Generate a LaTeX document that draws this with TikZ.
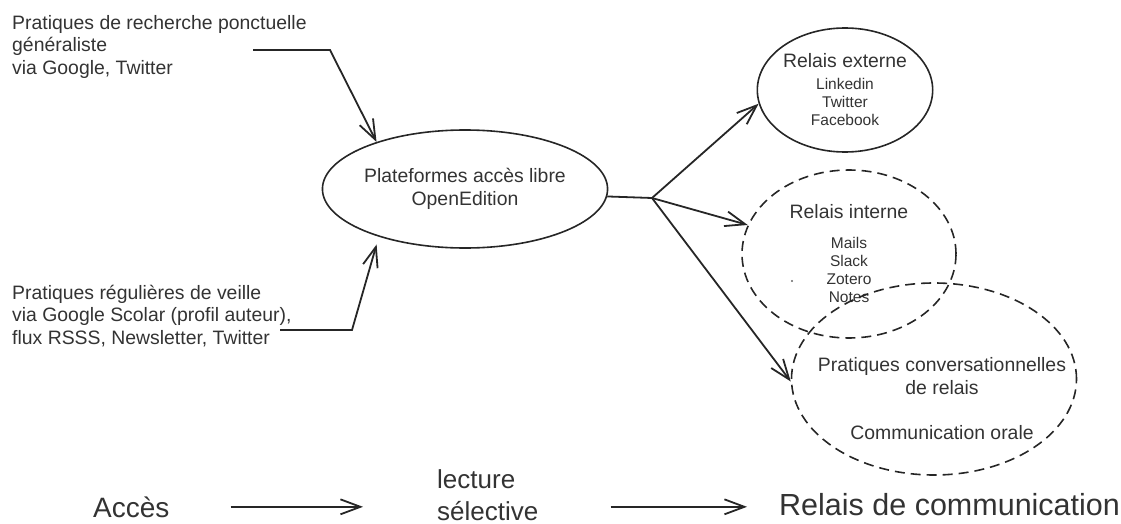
\documentclass[tikz,border=0pt]{standalone}
\usepackage{fontspec}
\setmainfont{Liberation Sans}
\usepackage{tikz}
\usetikzlibrary{arrows.meta,shapes}
\newcommand{\bodysize}{\fontsize{19.4}{22.5}\selectfont}
\newcommand{\listsize}{\fontsize{15.5}{18}\selectfont}
\tikzstyle{bubble}=[ellipse,draw=black!85,line width=1.6pt,inner sep=0pt,align=center,text=black!80]
\tikzstyle{relay}=[bubble,dash pattern=on 10pt off 6pt]
\tikzstyle{txt}=[inner sep=0pt,align=left,text=black!80]
\begin{document}
\begin{tikzpicture}[x=1pt,y=-1pt]
        \tikzset{edge/.style = {draw,line width=1.8pt,black!85,-{Straight Barb[length=20pt,width=15pt]}}}
        \useasboundingbox (0,0) rectangle (1121,524);
        \node[txt,anchor=north west,font=\bodysize] (rech) at (12,15) {Pratiques de recherche ponctuelle\\généraliste\\via Google, Twitter};
        \node[txt,anchor=north west,font=\bodysize] (veille) at (12,285) {Pratiques régulières de veille\\via Google Scolar (profil auteur),\\flux RSSS, Newsletter, Twitter};
        \node[bubble,minimum width=284pt,minimum height=118pt,font=\bodysize] (plat) at (465,189) {Plateformes accès libre\\OpenEdition};
        \node[bubble,minimum width=172pt,minimum height=124pt,font=\listsize] (ext) at (845,90) {{\bodysize Relais externe}\\[4pt]Linkedin\\Twitter\\Facebook};
        \node[relay,minimum width=214pt,minimum height=168pt,font=\listsize] (int) at (849,254) {{\bodysize Relais interne}\\[12pt]Mails\\Slack\\Zotero\\Notes};
        \node[relay,minimum width=285pt,minimum height=192pt] (conv) at (934,379) {};
        \node[txt,align=center,font=\bodysize] (convtxt) at (942,399) {Pratiques conversationnelles\\de relais\\[23pt]Communication orale};
        \fill[black!60] (792,281) circle (1.2pt);
        % sources vers la plateforme
        \coordinate (r1) at (253,50);
        \coordinate (r2) at (330,50);
        \coordinate (v1) at (280,330);
        \coordinate (v2) at (352,330);
        \draw[edge] (r1) -- (r2) -- (plat.152);
        \draw[edge,shorten >=8pt] (v1) -- (v2) -- (plat.209);
        % relais
        \coordinate (hub) at (652,198);
        \draw[line width=1.8pt,black!85] (plat.-3) -- (hub);
        \draw[edge] (hub) to (ext.189);
        \draw[edge] (hub) to (int.164);
        \draw[edge] (hub) to (conv.181);
        % etapes
        \node[txt,anchor=base west,font=\fontsize{28}{32}\selectfont] (acc) at (93,517) {Accès};
        \node[txt,anchor=north west,font=\fontsize{26}{32}\selectfont] (lect) at (437,469) {lecture\\sélective};
        \node[txt,anchor=base west,font=\fontsize{30.5}{36}\selectfont] (relcom) at (779,515) {Relais de communication};
        \draw[edge,shorten <=61pt,shorten >=74pt] (acc.east) to (acc.east -| lect.west);
        \draw[edge,shorten <=72pt,shorten >=32pt] (lect.east |- acc.east) to (relcom.west |- acc.east);
      \end{tikzpicture}
\end{document}
